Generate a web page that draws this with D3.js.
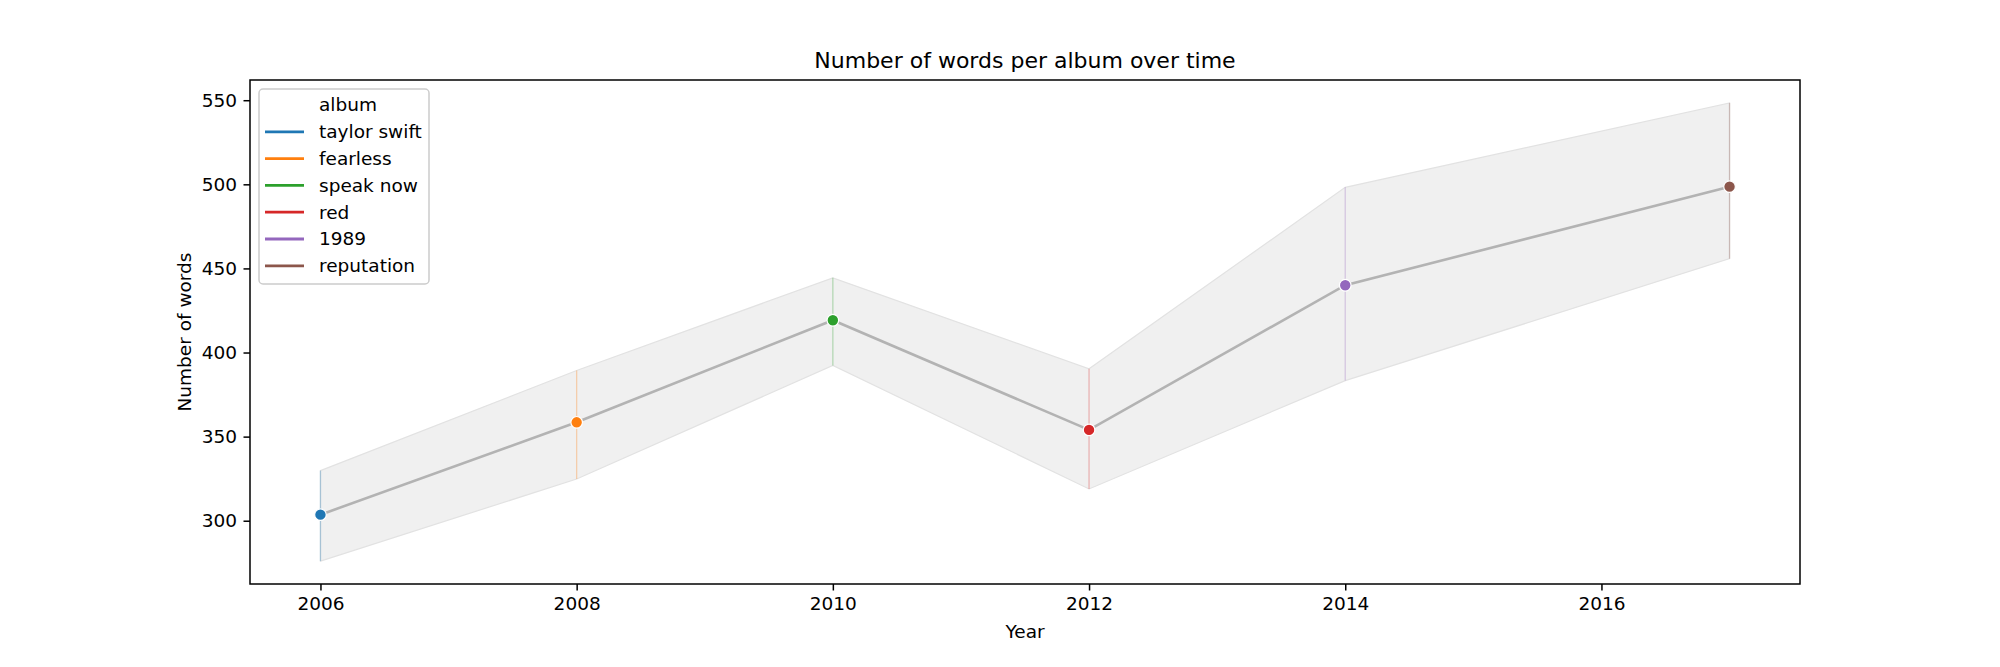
<!DOCTYPE html>
<html>
<head>
<meta charset="utf-8">
<script src="https://cdn.jsdelivr.net/npm/d3@7"></script>
<style>
  html, body { margin: 0; padding: 0; background: #fff; }
  svg { display: block; font-family: "DejaVu Sans", sans-serif; }
</style>
</head>
<body>
<svg id="chart" width="2000" height="667"></svg>
<script>
// ---- data ----
const albums = ["taylor swift", "fearless", "speak now", "red", "1989", "reputation"];
const years = [2006, 2008, 2010, 2012, 2014, 2017];
const meanWords = [303.6, 358.5, 419.2, 354.0, 440.0, 498.6];
const ciLower = [276.0, 324.8, 392.3, 318.9, 383.3, 455.8];
const ciUpper = [329.8, 389.3, 444.4, 390.3, 498.2, 548.4];
const xTicks = [2006, 2008, 2010, 2012, 2014, 2016];
const yTicks = [300, 350, 400, 450, 500, 550];
const albumColors = ["#1f77b4", "#ff7f0e", "#2ca02c", "#d62728", "#9467bd", "#8c564b"];

const rows = years.map((y, i) => ({
  year: y, album: albums[i], mean: meanWords[i], lo: ciLower[i], hi: ciUpper[i]
}));

// ---- layout ----
const svg = d3.select("#chart");
const L = 250, R = 1800, T = 80, B = 584;

const x = d3.scaleLinear().domain([2005.45, 2017.55]).range([L, R]);
const yMin = d3.min(ciLower), yMax = d3.max(ciUpper);
const pad = (yMax - yMin) * 0.05;
const y = d3.scaleLinear().domain([yMin - pad, yMax + pad]).range([B, T]);
const color = d3.scaleOrdinal().domain(albums).range(albumColors);

// band
const area = d3.area().x(d => x(d.year)).y0(d => y(d.lo)).y1(d => y(d.hi));
svg.append("path").datum(rows).attr("d", area)
  .attr("fill", "#f0f0f0").attr("stroke", "#e2e2e2").attr("stroke-width", 1.2);

// vertical CI lines
svg.selectAll("line.ci").data(rows).enter().append("line")
  .attr("class", "ci")
  .attr("x1", d => x(d.year)).attr("x2", d => x(d.year))
  .attr("y1", d => y(d.lo)).attr("y2", d => y(d.hi))
  .attr("stroke", d => color(d.album)).attr("stroke-opacity", 0.3).attr("stroke-width", 1.3);

// mean line
const line = d3.line().x(d => x(d.year)).y(d => y(d.mean));
svg.append("path").datum(rows).attr("d", line)
  .attr("fill", "none").attr("stroke", "#b3b3b3").attr("stroke-width", 2.6);

// markers
svg.selectAll("circle.pt").data(rows).enter().append("circle")
  .attr("class", "pt")
  .attr("cx", d => x(d.year)).attr("cy", d => y(d.mean)).attr("r", 5.8)
  .attr("fill", d => color(d.album)).attr("stroke", "#fff").attr("stroke-width", 1.2);

// axes frame
svg.append("rect").attr("x", L).attr("y", T).attr("width", R - L).attr("height", B - T)
  .attr("fill", "none").attr("stroke", "#000").attr("stroke-width", 1.5);

// x axis
const xAxis = svg.append("g").attr("transform", `translate(0,${B})`)
  .call(d3.axisBottom(x).tickValues(xTicks).tickFormat(d3.format("d")).tickSize(6.5).tickPadding(6.5));
xAxis.select(".domain").remove();
xAxis.selectAll(".tick line").attr("stroke-width", 1.5);
xAxis.selectAll("text").attr("font-size", 18.5).attr("fill", "#000")
  .attr("font-family", "DejaVu Sans");

// y axis
const yAxis = svg.append("g").attr("transform", `translate(${L},0)`)
  .call(d3.axisLeft(y).tickValues(yTicks).tickSize(6.5).tickPadding(6.5));
yAxis.select(".domain").remove();
yAxis.selectAll(".tick line").attr("stroke-width", 1.5);
yAxis.selectAll("text").attr("font-size", 18.5).attr("fill", "#000")
  .attr("font-family", "DejaVu Sans");

// labels
svg.append("text").attr("x", (L + R) / 2).attr("y", 68)
  .attr("text-anchor", "middle").attr("font-size", 22).text("Number of words per album over time");
svg.append("text").attr("x", (L + R) / 2).attr("y", 638)
  .attr("text-anchor", "middle").attr("font-size", 18.5).text("Year");
svg.append("text").attr("transform", `translate(191,${(T + B) / 2}) rotate(-90)`)
  .attr("text-anchor", "middle").attr("font-size", 18.5).text("Number of words");

// legend
const lg = svg.append("g");
lg.append("rect").attr("x", 259).attr("y", 89).attr("width", 170).attr("height", 195)
  .attr("rx", 4).attr("fill", "#fff").attr("fill-opacity", 0.8)
  .attr("stroke", "#cccccc").attr("stroke-width", 1.5);
const legendRows = ["album"].concat(albums);
const ly0 = 105, ldy = 26.8;
lg.selectAll("text.lt").data(legendRows).enter().append("text")
  .attr("class", "lt")
  .attr("x", 319).attr("y", (d, i) => ly0 + i * ldy)
  .attr("dy", "0.35em").attr("font-size", 18.5).text(d => d);
lg.selectAll("line.lh").data(albums).enter().append("line")
  .attr("class", "lh")
  .attr("x1", 265).attr("x2", 304)
  .attr("y1", (d, i) => ly0 + (i + 1) * ldy).attr("y2", (d, i) => ly0 + (i + 1) * ldy)
  .attr("stroke", d => color(d)).attr("stroke-width", 2.8);
</script>
</body>
</html>
